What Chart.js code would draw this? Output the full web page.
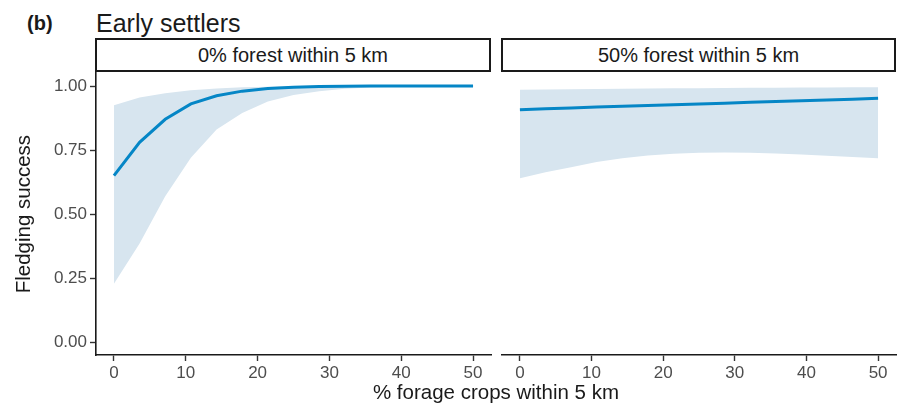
<!DOCTYPE html>
<html lang="en">
<head>
<meta charset="UTF-8">
<title>Early settlers</title>
<script src="https://cdn.jsdelivr.net/npm/chart.js"></script>
<style>
  body {
    margin: 0;
    width: 904px;
    height: 406px;
    background: #fff;
    position: relative;
    overflow: hidden;
    font-family: "Liberation Sans", Arial, sans-serif;
    color: #1a1a1a;
  }
  .abs { position: absolute; line-height: 1; white-space: nowrap; }
  #tag { left: 27px; top: 13px; font-size: 20px; font-weight: bold; }
  #title { left: 96px; top: 11px; font-size: 25px; }
  .strip {
    position: absolute;
    top: 38px;
    height: 34px;
    box-sizing: border-box;
    border: 2px solid #1a1a1a;
    display: flex;
    align-items: center;
    justify-content: center;
    font-size: 20px;
  }
  #strip0 { left: 95px; width: 396px; }
  #strip50 { left: 501px; width: 395px; }
  #xtitle { left: 96px; width: 800px; text-align: center; top: 382px; font-size: 20.5px; }
  #left { position: absolute; left: 0; top: 60px; }
  #right { position: absolute; left: 495px; top: 60px; }
</style>
</head>
<body>

<div id="tag" class="abs">(b)</div>
<div id="title" class="abs">Early settlers</div>
<div id="strip0" class="strip">0% forest within 5 km</div>
<div id="strip50" class="strip">50% forest within 5 km</div>
<canvas id="left" width="495" height="330"></canvas>
<canvas id="right" width="409" height="330"></canvas>
<div id="xtitle" class="abs">% forage crops within 5 km</div>

<script>
  // % forage crops within 5 km (x)
  const forage = [0, 3.57, 7.14, 10.71, 14.29, 17.86, 21.43, 25, 28.57, 32.14, 35.71, 39.29, 42.86, 46.43, 50];

  // 0% forest panel: fitted line and confidence band
  const fit0 = [0.65, 0.78, 0.87, 0.93, 0.962, 0.98, 0.99, 0.995, 0.998, 0.999, 1, 1, 1, 1, 1];
  const hi0 = [0.925, 0.955, 0.972, 0.983, 0.99, 0.995, 0.997, 0.999, 0.999, 1, 1, 1, 1, 1, 1];
  const lo0 = [0.228, 0.385, 0.57, 0.72, 0.83, 0.895, 0.94, 0.965, 0.98, 0.989, 0.994, 0.997, 0.998, 0.999, 0.999];

  // 50% forest panel
  const fit50 = [0.903, 0.907, 0.910, 0.914, 0.917, 0.920, 0.923, 0.926, 0.929, 0.932, 0.935, 0.938, 0.941, 0.944, 0.948];
  const hi50 = [0.981, 0.982, 0.983, 0.984, 0.985, 0.986, 0.987, 0.987, 0.988, 0.989, 0.989, 0.990, 0.990, 0.991, 0.991];
  const lo50 = [0.637, 0.66, 0.68, 0.70, 0.715, 0.725, 0.732, 0.736, 0.737, 0.736, 0.733, 0.729, 0.724, 0.72, 0.715];

  const xTicks = [0, 10, 20, 30, 40, 50];
  const yTicks = [0, 0.25, 0.5, 0.75, 1];

  const FONT = '"Liberation Sans", Arial, sans-serif';
  const LINE = '#0586c6';
  const BAND = '#d7e5ef';

  function pts(ys) {
    return forage.map((x, i) => ({ x: x, y: ys[i] }));
  }

  function axisStyle() {
    return {
      border: { display: true, color: '#1a1a1a', width: 1.6 },
      grid: { drawOnChartArea: false, tickLength: 6, tickColor: '#333', tickWidth: 1.4 },
    };
  }

  function makePanel(id, fit, lo, hi, showY, pad) {
    const ctx = document.getElementById(id).getContext('2d');
    return new Chart(ctx, {
      type: 'line',
      data: {
        datasets: [
          { data: pts(fit), borderColor: LINE, borderWidth: 3, pointRadius: 0, fill: false, order: 0 },
          { data: pts(hi), borderColor: 'transparent', borderWidth: 0, pointRadius: 0, backgroundColor: BAND, fill: '+1', order: 1 },
          { data: pts(lo), borderColor: 'transparent', borderWidth: 0, pointRadius: 0, fill: false, order: 2 }
        ]
      },
      options: {
        responsive: false,
        animation: false,
        devicePixelRatio: 1,
        layout: { padding: pad },
        plugins: { legend: { display: false }, tooltip: { enabled: false } },
        scales: {
          x: {
            type: 'linear',
            min: -2.5,
            max: 52.5,
            ...axisStyle(),
            afterBuildTicks: s => { s.ticks = xTicks.map(v => ({ value: v })); },
            afterFit: s => { s.height = 35; },
            ticks: { color: '#4d4d4d', font: { size: 17, family: FONT }, padding: 2, maxRotation: 0, autoSkip: false }
          },
          y: {
            type: 'linear',
            min: -0.05,
            max: 1.05,
            display: showY,
            ...axisStyle(),
            afterBuildTicks: s => { s.ticks = yTicks.map(v => ({ value: v })); },
            afterFit: s => { if (showY) s.width = 96; },
            ticks: {
              color: '#4d4d4d', font: { size: 17, family: FONT }, padding: 3,
              callback: v => Number(v).toFixed(2)
            },
            title: {
              display: true,
              text: 'Fledging success',
              color: '#1a1a1a',
              font: { size: 20.5, family: FONT },
              padding: { top: 12, bottom: 0 }
            }
          }
        }
      }
    });
  }

  makePanel('left', fit0, lo0, hi0, true, { top: 12, right: 4, left: 0, bottom: 0 });
  makePanel('right', fit50, lo50, hi50, false, { top: 12, right: 8, left: 7, bottom: 0 });
</script>

</body>
</html>
